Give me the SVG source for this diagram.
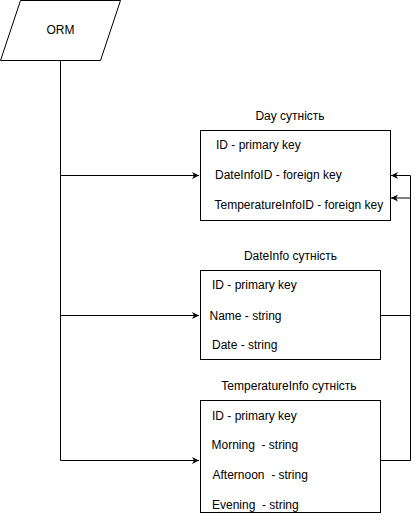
<svg xmlns="http://www.w3.org/2000/svg" width="419" height="521" viewBox="0 0 419 521">
<style>
text{font-family:"Liberation Sans",Arial,sans-serif;font-size:12px;fill:#000;white-space:pre}
.t{text-anchor:middle}
.box{fill:#fff;stroke:#000;stroke-width:1}
.c{fill:none;stroke:#000;stroke-width:1}
</style>
<defs>
<marker id="a" markerWidth="8" markerHeight="8" refX="7" refY="4" orient="auto" markerUnits="userSpaceOnUse">
<path d="M0,0.5 L7,4 L0,7.5 L2,4 Z" fill="#000"/>
</marker>
</defs>
<rect width="419" height="521" fill="#fff"/>
<g id="connectors">
<path class="c" d="M60.5,60 V460.5"/>
<path class="c" d="M60.5,175.5 H199" marker-end="url(#a)"/>
<path class="c" d="M60.5,315.5 H199" marker-end="url(#a)"/>
<path class="c" d="M60.5,460.5 H199" marker-end="url(#a)"/>
<path class="c" d="M380,315.5 H410.5 V175.5 H391" marker-end="url(#a)"/>
<path class="c" d="M380,460.5 H410.5 V198 H391" marker-end="url(#a)"/>
</g>
<g id="orm">
<polygon class="box" points="20.5,0.5 120.5,0.5 100.5,60.5 0.5,60.5"/>
<text class="t" x="60.5" y="34">ORM</text>
</g>
<g id="day">
<text class="t" x="290" y="120">Day сутність</text>
<rect class="box" x="200.5" y="130.5" width="190" height="90"/>
<text x="216" y="149">ID - primary key</text>
<text x="215" y="179">DateInfoID - foreign key</text>
<text x="214.5" y="209">TemperatureInfoID - foreign key</text>
</g>
<g id="dateinfo">
<text class="t" x="290.5" y="260">DateInfo сутність</text>
<rect class="box" x="200.5" y="270.5" width="180" height="89"/>
<text x="212" y="289">ID - primary key</text>
<text x="209.5" y="319.5">Name - string</text>
<text x="212" y="349">Date - string</text>
</g>
<g id="temperatureinfo">
<text class="t" x="289" y="390">TemperatureInfo сутність</text>
<rect class="box" x="200.5" y="400.5" width="180" height="112"/>
<text x="212" y="419.5">ID - primary key</text>
<text x="211.5" y="449">Morning  - string</text>
<text x="212.5" y="479">Afternoon  - string</text>
<text x="212" y="509">Evening  - string</text>
</g>
</svg>
